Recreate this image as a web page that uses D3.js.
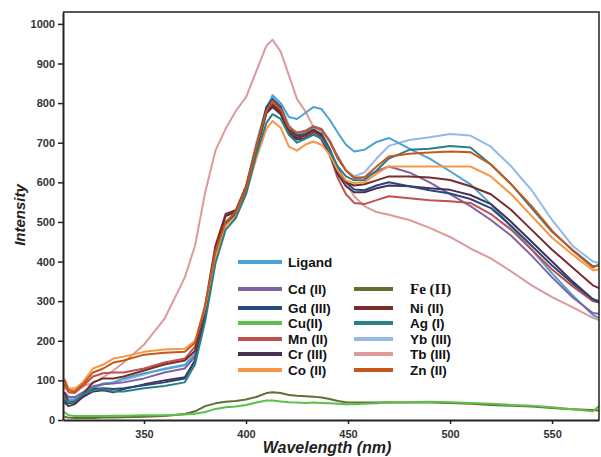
<!DOCTYPE html>
<html>
<head>
<meta charset="utf-8">
<script src="https://cdn.jsdelivr.net/npm/d3@7/dist/d3.min.js"></script>
<style>
  body { margin: 0; background: #fff; }
  svg { display: block; font-family: Arial, "Liberation Sans", sans-serif; }
</style>
</head>
<body>
<div id="chart"></div>
<script>
// Emission spectra – ligand and its metal complexes

const wavelengths = [311, 313, 316, 320, 325, 330, 335, 340, 350, 360, 370, 375, 380, 385, 390, 395, 400, 405, 410, 413,
  417, 421, 425, 429, 433, 437, 441, 445, 449, 453, 458, 464, 470, 480, 490, 500, 510, 520, 530, 540, 550, 560, 570, 573];

const ligand = [60, 50, 52, 65, 82, 92, 95, 105, 118, 128, 138, 165, 260, 410, 490, 520, 585, 690, 785, 820,
  800, 765, 760, 775, 790, 785, 758, 725, 695, 678, 682, 702, 712, 685, 660, 628, 595, 545, 487, 430, 370, 315, 265, 258];
const cd = [70, 58, 58, 70, 85, 90, 92, 95, 105, 120, 130, 160, 270, 420, 495, 520, 580, 685, 775, 790,
  780, 740, 725, 730, 742, 735, 705, 665, 630, 610, 612, 628, 640, 625, 600, 570, 540, 505, 465, 415, 360, 310, 270, 268];
const gd = [50, 42, 45, 62, 78, 80, 78, 80, 88, 95, 105, 150, 260, 415, 495, 520, 578, 685, 790, 810,
  790, 735, 718, 722, 733, 722, 685, 635, 600, 582, 580, 592, 600, 590, 580, 572, 558, 535, 490, 440, 390, 345, 305, 300];
const cu = [20, 12, 10, 10, 10, 10, 11, 11, 12, 12, 14, 16, 20, 28, 32, 34, 38, 44, 49, 49,
  47, 45, 44, 43, 44, 43, 42, 41, 40, 40, 41, 42, 44, 45, 46, 45, 43, 41, 38, 36, 32, 27, 22, 35];
const mn = [90, 70, 68, 85, 110, 118, 120, 120, 130, 145, 155, 185, 275, 420, 495, 520, 585, 690, 785, 800,
  780, 730, 715, 718, 728, 715, 670, 610, 570, 548, 545, 555, 565, 560, 555, 552, 548, 520, 480, 430, 380, 338, 300, 298];
const cr = [45, 35, 40, 58, 72, 75, 70, 78, 90, 100, 108, 150, 265, 430, 515, 525, 580, 680, 775, 790,
  772, 722, 708, 712, 722, 710, 670, 620, 590, 575, 575, 585, 592, 590, 585, 581, 568, 545, 500, 450, 400, 350, 305, 296];
const co = [105, 80, 78, 95, 130, 140, 155, 160, 172, 178, 180, 200, 285, 410, 490, 515, 570, 660, 735, 755,
  738, 690, 680, 695, 703, 695, 670, 630, 605, 598, 600, 622, 640, 640, 640, 640, 640, 615, 570, 515, 460, 418, 378, 380];
const fe = [8, 6, 5, 5, 5, 6, 6, 7, 8, 10, 15, 22, 35, 42, 46, 48, 52, 58, 68, 70,
  68, 63, 61, 60, 59, 57, 53, 48, 45, 44, 44, 44, 45, 44, 44, 43, 41, 38, 36, 34, 30, 27, 25, 24];
const ni = [70, 45, 45, 65, 95, 105, 105, 110, 125, 140, 150, 175, 290, 440, 520, 530, 590, 690, 780, 795,
  778, 728, 712, 718, 730, 718, 680, 630, 600, 592, 595, 605, 615, 615, 612, 606, 590, 570, 530, 480, 430, 385, 340, 333];
const ag = [55, 45, 48, 65, 75, 78, 72, 72, 80, 86, 95, 140, 250, 395, 480, 510, 570, 670, 750, 772,
  760, 720, 700, 710, 720, 712, 680, 640, 615, 605, 606, 630, 660, 682, 685, 692, 688, 645, 595, 535, 475, 430, 388, 390];
const yb = [65, 55, 55, 65, 80, 90, 95, 100, 115, 130, 140, 170, 270, 420, 495, 520, 590, 700, 790, 815,
  795, 745, 720, 728, 738, 730, 700, 660, 630, 615, 625, 660, 692, 707, 714, 722, 718, 690, 640, 580, 505, 440, 400, 396];
const tb = [80, 78, 80, 86, 93, 108, 125, 145, 190, 255, 360, 440, 575, 680, 735, 780, 815, 880, 945, 960,
  930, 870, 810, 780, 740, 705, 670, 630, 600, 565, 540, 525, 518, 505, 485, 462, 433, 408, 375, 340, 310, 285, 258, 252];
const zn = [100, 75, 72, 90, 120, 130, 145, 150, 165, 170, 172, 195, 290, 425, 500, 525, 585, 690, 780, 805,
  785, 738, 725, 728, 740, 732, 705, 660, 630, 612, 612, 640, 665, 672, 675, 678, 676, 645, 595, 540, 478, 428, 385, 392];

const xTicks = [350, 400, 450, 500, 550];
const yTicks = [0, 100, 200, 300, 400, 500, 600, 700, 800, 900, 1000];

const seriesNames = ["Ligand", "Cd (II)", "Gd (III)", "Cu(II)", "Mn (II)", "Cr (III)", "Co (II)",
  "Fe (II)", "Ni (II)", "Ag (I)", "Yb (III)", "Tb (III)", "Zn (II)"];
const seriesValues = [ligand, cd, gd, cu, mn, cr, co, fe, ni, ag, yb, tb, zn];
const seriesColors = ["#4ba3d2", "#8064a2", "#254a7a", "#5cbf4a", "#c0504d", "#4a3050", "#f79646",
  "#5f7030", "#7a2c2a", "#2a8088", "#95b9e6", "#dc9a98", "#c8571a"];

const series = seriesNames.map((name, i) => ({
  name,
  color: seriesColors[i],
  values: wavelengths.map((w, j) => ({ w, v: seriesValues[i][j] }))
}));

// draw order: pink Tb behind, greens near the bottom
const drawOrder = ["Tb (III)", "Fe (II)", "Cu(II)", "Yb (III)", "Ligand", "Cd (II)", "Mn (II)", "Cr (III)",
  "Gd (III)", "Ni (II)", "Co (II)", "Ag (I)", "Zn (II)"];

const width = 601;
const height = 457;
const margin = { top: 12, right: 2, bottom: 37, left: 63 };

const svg = d3.select("#chart")
  .append("svg")
  .attr("width", width)
  .attr("height", height);

const x = d3.scaleLinear()
  .domain([310.3, 573])
  .range([margin.left, width - margin.right]);

const y = d3.scaleLinear()
  .domain([0, 1030])
  .range([height - margin.bottom, margin.top]);

svg.append("clipPath")
  .attr("id", "plot-clip")
  .append("rect")
  .attr("x", margin.left)
  .attr("y", margin.top)
  .attr("width", width - margin.right - margin.left)
  .attr("height", height - margin.bottom - margin.top);

const line = d3.line()
  .x(d => x(d.w))
  .y(d => y(d.v));

const plot = svg.append("g").attr("clip-path", "url(#plot-clip)");

plot.selectAll("path.spectrum")
  .data(drawOrder.map(n => series.find(s => s.name === n)))
  .enter()
  .append("path")
  .attr("class", "spectrum")
  .attr("fill", "none")
  .attr("stroke", d => d.color)
  .attr("stroke-width", 2)
  .attr("stroke-linejoin", "round")
  .attr("d", d => line(d.values));

// frame (top + right)
svg.append("path")
  .attr("d", `M${margin.left},${margin.top}H${width - margin.right}V${height - margin.bottom}`)
  .attr("fill", "none")
  .attr("stroke", "#222")
  .attr("stroke-width", 1.5);

// Axes
const xAxis = svg.append("g")
  .attr("transform", `translate(0,${height - margin.bottom})`)
  .call(d3.axisBottom(x).tickValues(xTicks).tickSize(4).tickPadding(6).tickSizeOuter(0));

const yAxis = svg.append("g")
  .attr("transform", `translate(${margin.left},0)`)
  .call(d3.axisLeft(y).tickValues(yTicks).tickFormat(d3.format("d")).tickSize(5).tickPadding(3).tickSizeOuter(0));

[xAxis, yAxis].forEach(g => {
  g.select(".domain").attr("stroke", "#222").attr("stroke-width", 2);
  g.selectAll(".tick line").attr("stroke", "#222").attr("stroke-width", 1.5);
  g.selectAll("text")
    .style("font-size", "11px")
    .style("font-weight", "bold")
    .attr("fill", "#333");
});

svg.append("text")
  .attr("x", 327)
  .attr("y", 453)
  .attr("text-anchor", "middle")
  .style("font-size", "16px")
  .style("font-weight", "bold")
  .style("font-style", "italic")
  .attr("fill", "#222")
  .text("Wavelength (nm)");

svg.append("text")
  .attr("transform", "translate(25,215) rotate(-90)")
  .attr("text-anchor", "middle")
  .style("font-size", "15px")
  .style("font-weight", "bold")
  .style("font-style", "italic")
  .attr("fill", "#222")
  .text("Intensity");

// Legend
const legendRows = [289, 308, 323, 339, 354, 370];
const legendItems = [{ name: "Ligand", x: 238, y: 262 }];
["Cd (II)", "Gd (III)", "Cu(II)", "Mn (II)", "Cr (III)", "Co (II)"]
  .forEach((n, i) => legendItems.push({ name: n, x: 238, y: legendRows[i] }));
["Fe (II)", "Ni (II)", "Ag (I)", "Yb (III)", "Tb (III)", "Zn (II)"]
  .forEach((n, i) => legendItems.push({ name: n, x: 354, y: legendRows[i], right: true }));

const legend = svg.append("g");

legend.selectAll("line")
  .data(legendItems)
  .enter()
  .append("line")
  .attr("x1", d => d.x)
  .attr("x2", d => d.x + (d.right ? 39 : 44))
  .attr("y1", d => d.y)
  .attr("y2", d => d.y)
  .attr("stroke", d => series.find(s => s.name === d.name).color)
  .attr("stroke-width", 4);

legend.selectAll("text")
  .data(legendItems)
  .enter()
  .append("text")
  .attr("x", d => d.x + (d.right ? 56 : 50))
  .attr("y", d => d.y)
  .attr("dy", "0.36em")
  .style("font-size", d => d.name === "Fe (II)" ? "15px" : "13.5px")
  .style("font-weight", "bold")
  .style("font-family", d => d.name === "Fe (II)" ? "'Liberation Serif', 'DejaVu Serif', serif" : null)
  .attr("fill", "#111")
  .text(d => d.name);
</script>
</body>
</html>
